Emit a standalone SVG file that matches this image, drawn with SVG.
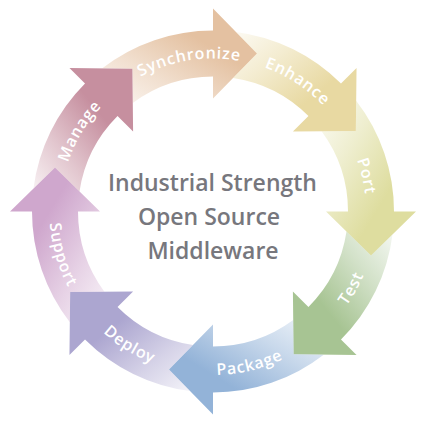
<svg xmlns="http://www.w3.org/2000/svg" width="427" height="424" viewBox="0 0 427 424">
<style>
.lbl{font-family:"Open Sans","Liberation Sans",sans-serif;font-weight:600;font-size:16px;fill:#ffffff;letter-spacing:0.8px;text-anchor:middle}
.ctr{font-family:"Open Sans","Liberation Sans",sans-serif;font-weight:600;font-size:23px;fill:#77777d;text-anchor:middle}
.s0{stop-opacity:0.12}.s1{stop-opacity:0.5}.s2{stop-opacity:1}
</style>
<defs>
<path id="arrowA" d="M -80.22,-108.58 L -80.61,-142.84 L -110.72,-143.17 A 181 181 0 0 1 0,-181 L 0,-203 L 44,-158 L 0,-113 L 0,-135 A 135 135 0 0 0 -80.22,-108.58 Z"/>
<path id="arrowB" d="M 20.05,-133.5 L 44,-158 L 22.95,-179.53 A 181 181 0 0 1 127.99,-127.99 L 143.54,-143.54 L 142.84,-80.61 L 79.9,-79.9 L 95.46,-95.46 A 135 135 0 0 0 20.05,-133.5 Z"/>
<linearGradient id="gSync" x1="0" y1="1" x2="1" y2="0"><stop offset="0" class="s0" stop-color="#e4c1a1"/><stop offset="0.3" class="s1" stop-color="#e4c1a1"/><stop offset="0.65" class="s2" stop-color="#e4c1a1"/></linearGradient>
<linearGradient id="gEnh" x1="0" y1="0" x2="1" y2="1"><stop offset="0" class="s0" stop-color="#e8d9a2"/><stop offset="0.3" class="s1" stop-color="#e8d9a2"/><stop offset="0.65" class="s2" stop-color="#e8d9a2"/></linearGradient>
<linearGradient id="gPort" x1="0" y1="1" x2="1" y2="0"><stop offset="0" class="s0" stop-color="#dedd9f"/><stop offset="0.3" class="s1" stop-color="#dedd9f"/><stop offset="0.65" class="s2" stop-color="#dedd9f"/></linearGradient>
<linearGradient id="gTest" x1="0" y1="0" x2="1" y2="1"><stop offset="0" class="s0" stop-color="#a7c493"/><stop offset="0.3" class="s1" stop-color="#a7c493"/><stop offset="0.65" class="s2" stop-color="#a7c493"/></linearGradient>
<linearGradient id="gPack" x1="0" y1="1" x2="1" y2="0"><stop offset="0" class="s0" stop-color="#93b3d8"/><stop offset="0.3" class="s1" stop-color="#93b3d8"/><stop offset="0.65" class="s2" stop-color="#93b3d8"/></linearGradient>
<linearGradient id="gDep" x1="0" y1="0" x2="1" y2="1"><stop offset="0" class="s0" stop-color="#aca6d0"/><stop offset="0.3" class="s1" stop-color="#aca6d0"/><stop offset="0.65" class="s2" stop-color="#aca6d0"/></linearGradient>
<linearGradient id="gSup" x1="0" y1="1" x2="1" y2="0"><stop offset="0" class="s0" stop-color="#cfa7cd"/><stop offset="0.3" class="s1" stop-color="#cfa7cd"/><stop offset="0.65" class="s2" stop-color="#cfa7cd"/></linearGradient>
<linearGradient id="gMan" x1="0" y1="0" x2="1" y2="1"><stop offset="0" class="s0" stop-color="#c68f9f"/><stop offset="0.3" class="s1" stop-color="#c68f9f"/><stop offset="0.65" class="s2" stop-color="#c68f9f"/></linearGradient>
<path id="pSync" d="M -131.15,-78.8 A 153 153 0 0 1 100.38,-115.47"/>
<path id="pEnh" d="M -44.74,-146.31 A 153 153 0 0 1 151.86,-18.65"/>
<path id="pPort" d="M 69.46,-136.32 A 153 153 0 0 1 122.19,92.08"/>
<path id="pMan" d="M -144.66,49.82 A 153 153 0 0 1 -23.93,-151.12"/>
<path id="pTest" d="M 31.2,160.49 A 163.5 163.5 0 0 0 152.64,-58.6"/>
<path id="pPack" d="M -97.25,131.44 A 163.5 163.5 0 0 0 146.32,72.95"/>
<path id="pDep" d="M -161.91,22.76 A 163.5 163.5 0 0 0 50.52,155.5"/>
<path id="pSup" d="M -135.54,-91.43 A 163.5 163.5 0 0 0 -66.5,149.36"/>
</defs>
<g transform="translate(213 211.5)">
<g id="synchronize"><use href="#arrowA" fill="url(#gSync)"/><text class="lbl"><textPath href="#pSync" startOffset="50%">Synchronize</textPath></text></g>
<g id="enhance"><use href="#arrowB" fill="url(#gEnh)"/><text class="lbl"><textPath href="#pEnh" startOffset="50%">Enhance</textPath></text></g>
<g id="port"><use href="#arrowA" fill="url(#gPort)" transform="rotate(90)"/><text class="lbl"><textPath href="#pPort" startOffset="50%">Port</textPath></text></g>
<g id="test"><use href="#arrowB" fill="url(#gTest)" transform="rotate(90)"/><text class="lbl"><textPath href="#pTest" startOffset="50%">Test</textPath></text></g>
<g id="package"><use href="#arrowA" fill="url(#gPack)" transform="rotate(180)"/><text class="lbl"><textPath href="#pPack" startOffset="50%">Package</textPath></text></g>
<g id="deploy"><use href="#arrowB" fill="url(#gDep)" transform="rotate(180)"/><text class="lbl"><textPath href="#pDep" startOffset="50%">Deploy</textPath></text></g>
<g id="support"><use href="#arrowA" fill="url(#gSup)" transform="rotate(270)"/><text class="lbl"><textPath href="#pSup" startOffset="50%">Support</textPath></text></g>
<g id="manage"><use href="#arrowB" fill="url(#gMan)" transform="rotate(270)"/><text class="lbl"><textPath href="#pMan" startOffset="50%">Manage</textPath></text></g>
</g>
<g id="center-title">
<text class="ctr" x="212.5" y="191">Industrial Strength</text>
<text class="ctr" x="209" y="225">Open Source</text>
<text class="ctr" x="213" y="259">Middleware</text>
</g>
</svg>
